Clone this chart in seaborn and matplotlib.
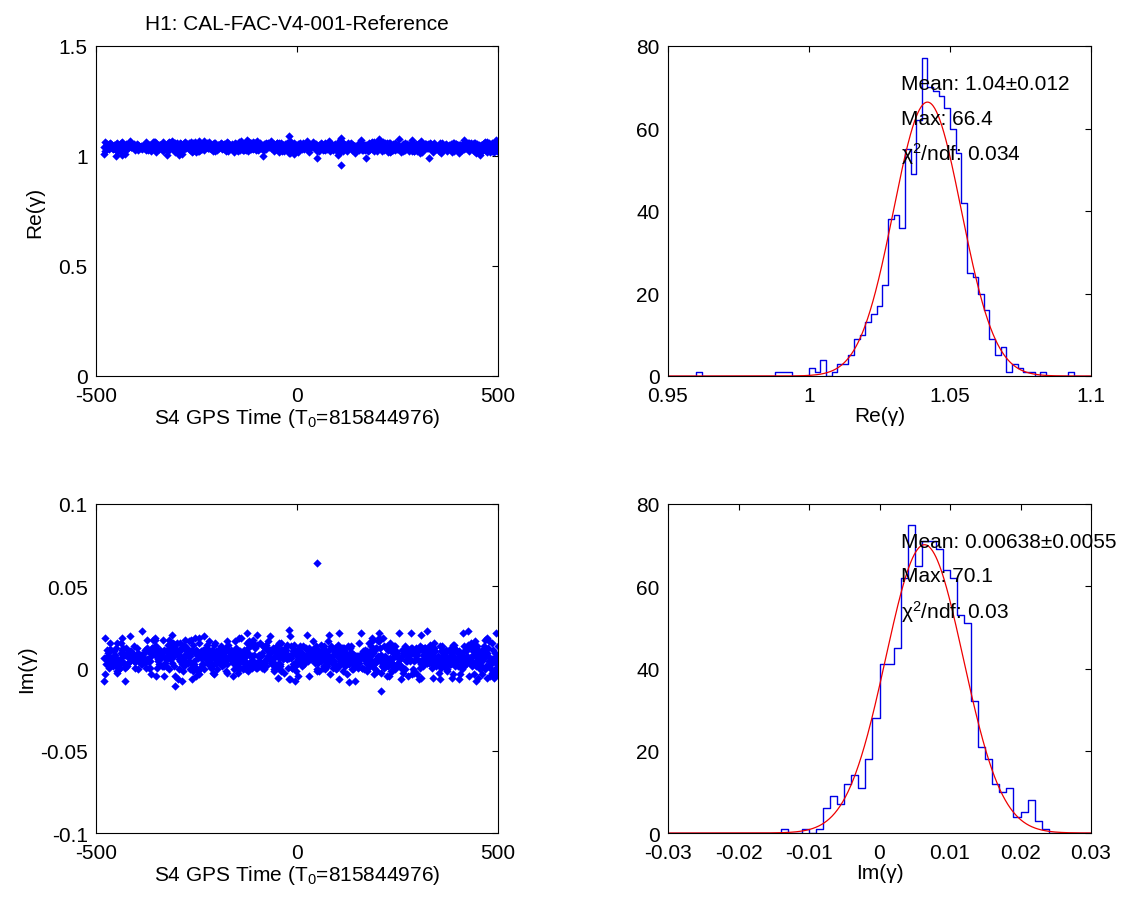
import numpy as np
import pandas as pd
import matplotlib
matplotlib.use("Agg")
import matplotlib.pyplot as plt
import seaborn as sns

# ---------------- data ----------------
title_text = "H1: CAL-FAC-V4-001-Reference"
time_label = "S4 GPS Time (T$_0$=815844976)"
re_label = "Re(γ)"
im_label = "Im(γ)"
time_first, time_last = -480, 500

# Re(gamma) histogram: bins of 0.002 starting at 0.95
re_bin_start = 0.95
re_bin_width = 0.002
re_counts = [0, 0, 0, 0, 0, 1, 0, 0, 0, 0,
             0, 0, 0, 0, 0, 0, 0, 0, 0, 1,
             1, 1, 0, 0, 0, 2, 1, 4, 0, 1,
             3, 3, 5, 9, 10, 13, 15, 17, 22, 38,
             39, 36, 55, 49, 62, 77, 70, 69, 68, 65,
             60, 54, 42, 25, 24, 20, 16, 9, 5, 7,
             1, 3, 2, 1, 1, 0, 1, 0, 0, 0,
             0, 1, 0, 0, 0]
re_fit_mean, re_fit_sigma, re_fit_peak = 1.042, 0.012, 66.4
re_stats = ["Mean: 1.04±0.012", "Max: 66.4", "χ$^{2}$/ndf: 0.034"]

# Im(gamma) histogram: bins of 0.001 starting at -0.03
im_bin_start = -0.03
im_bin_width = 0.001
im_counts = [0, 0, 0, 0, 0, 0, 0, 0, 0, 0,
             0, 0, 0, 0, 0, 0, 1, 0, 0, 1,
             0, 1, 6, 9, 7, 12, 14, 11, 18, 28,
             41, 41, 45, 62, 75, 65, 71, 71, 69, 64,
             62, 53, 51, 32, 21, 18, 12, 10, 11, 4,
             5, 8, 3, 1, 0, 0, 0, 0, 0, 0]
im_fit_mean, im_fit_sigma, im_fit_peak = 0.00638, 0.0055, 70.1
im_stats = ["Mean: 0.00638±0.0055", "Max: 70.1", "χ$^{2}$/ndf: 0.03"]

# isolated points seen in the time series (time, value)
re_tail_times = [109, 50, 172, 329, -85, -451, 101, -435, -323, -294, 455, 109, -20]
re_tail_values = [0.961, 0.989, 0.991, 0.993, 1.001, 1.001, 1.003, 1.005, 1.005,
                  1.005, 1.005, 1.083, 1.093]
re_band_range = (1.006, 1.082)
im_tail_times = [210, -304, 130, 50]
im_tail_values = [-0.0135, -0.0105, -0.0085, 0.064]
im_band_range = (-0.008, 0.03)

# ---------------- helpers ----------------
def hist_frame(start, width, counts):
    counts = np.asarray(counts)
    edges = np.round(start + width * np.arange(len(counts) + 1), 6)
    centers = np.round(edges[:-1] + width / 2, 6)
    return edges.tolist(), pd.DataFrame({"value": centers, "count": counts.astype(float)})


def band_series(df, lo, hi, tail_t, tail_v):
    sel = df[(df["value"] >= lo) & (df["value"] <= hi)]
    vals = np.repeat(sel["value"].to_numpy(), sel["count"].to_numpy().astype(int))
    n = len(vals)
    idx = np.arange(n, dtype=np.int64)
    key = (idx ** 3 * 7 + idx ** 2 * 29 + idx * 13) % 1013
    order = np.argsort(key, kind="stable")
    t = np.linspace(time_first, time_last, n)
    return pd.DataFrame({"t": np.concatenate([t, tail_t]),
                         "v": np.concatenate([vals[order], tail_v])})


re_edges, re_df = hist_frame(re_bin_start, re_bin_width, re_counts)
im_edges, im_df = hist_frame(im_bin_start, im_bin_width, im_counts)
re_ts = band_series(re_df, *re_band_range, re_tail_times, re_tail_values)
im_ts = band_series(im_df, *im_band_range, im_tail_times, im_tail_values)

# ---------------- style ----------------
sns.set_theme(style="white")
plt.rcParams["font.family"] = ["Liberation Sans", "DejaVu Sans"]
plt.rcParams["mathtext.fontset"] = "custom"
plt.rcParams["mathtext.rm"] = "Liberation Sans"
plt.rcParams["mathtext.it"] = "Liberation Sans"
plt.rcParams["text.color"] = "black"
plt.rcParams["axes.labelcolor"] = "black"
plt.rcParams["xtick.color"] = "black"
plt.rcParams["ytick.color"] = "black"
FS = 15

fig = plt.figure(figsize=(11.33, 9.03), dpi=100)
W, H = 1133, 903


def add_ax(x0, y0, x1, y1):
    return fig.add_axes([x0 / W, 1 - y1 / H, (x1 - x0) / W, (y1 - y0) / H])


ax_tl = add_ax(96, 47, 498, 377)
ax_tr = add_ax(668, 47, 1091, 377)
ax_bl = add_ax(96, 505, 498, 834)
ax_br = add_ax(668, 505, 1091, 834)


def style(ax):
    for s in ax.spines.values():
        s.set_color("black")
        s.set_linewidth(0.8)
    ax.tick_params(direction="in", top=True, right=True, length=4,
                   width=0.8, labelsize=FS, colors="black")
    ax.tick_params(axis="x", pad=7)
    ax.tick_params(axis="y", pad=6)
    ax.grid(False)


# time series
for ax, ts, ylim, yt, ytl, yl, ylp in [
    (ax_tl, re_ts, (0, 1.5), [0, 0.5, 1, 1.5], ["0", "0.5", "1", "1.5"], re_label, 10),
    (ax_bl, im_ts, (-0.1, 0.1), [-0.1, -0.05, 0, 0.05, 0.1],
     ["-0.1", "-0.05", "0", "0.05", "0.1"], im_label, 3),
]:
    sns.scatterplot(data=ts, x="t", y="v", ax=ax, color="#0000ff", marker="D",
                    s=18, linewidth=0, legend=False)
    ax.set_xlim(-500, 500)
    ax.set_ylim(*ylim)
    ax.set_xticks([-500, 0, 500], ["-500", "0", "500"])
    ax.set_yticks(yt, ytl)
    ax.set_xlabel(time_label, fontsize=FS, labelpad=1)
    ax.set_ylabel(yl, fontsize=FS, labelpad=ylp)
    style(ax)

ax_tl.set_title(title_text, fontsize=FS, pad=12)

# histograms
for ax, df, edges, mu, sg, pk, stats, xlim, xt, xtl, xl, tx in [
    (ax_tr, re_df, re_edges, re_fit_mean, re_fit_sigma, re_fit_peak, re_stats,
     (0.95, 1.1), [0.95, 1.0, 1.05, 1.1], ["0.95", "1", "1.05", "1.1"], re_label, 1.0327),
    (ax_br, im_df, im_edges, im_fit_mean, im_fit_sigma, im_fit_peak, im_stats,
     (-0.03, 0.03), [-0.03, -0.02, -0.01, 0, 0.01, 0.02, 0.03],
     ["-0.03", "-0.02", "-0.01", "0", "0.01", "0.02", "0.03"], im_label, 0.0031),
]:
    sns.histplot(x=df["value"].to_numpy(), weights=df["count"].to_numpy(),
                 bins=edges, element="step", fill=False, color="#0000e6",
                 linewidth=1.0, ax=ax)
    xs = np.linspace(xlim[0], xlim[1], 800)
    curve = pd.DataFrame({"x": xs, "y": pk * np.exp(-0.5 * ((xs - mu) / sg) ** 2)})
    sns.lineplot(data=curve, x="x", y="y", color="#ee0000", linewidth=0.9, ax=ax)
    ax.set_xlim(*xlim)
    ax.set_ylim(0, 80)
    ax.set_xticks(xt, xtl)
    ax.set_yticks([0, 20, 40, 60, 80], ["0", "20", "40", "60", "80"])
    ax.set_xlabel(xl, fontsize=FS, labelpad=1)
    ax.set_ylabel("")
    for yy, s in zip([71, 62.5, 54], stats):
        ax.text(tx, yy, s, fontsize=FS, va="center", ha="left", color="black",
                clip_on=False)
    style(ax)

fig.savefig("out.png", dpi=100, facecolor="white")
